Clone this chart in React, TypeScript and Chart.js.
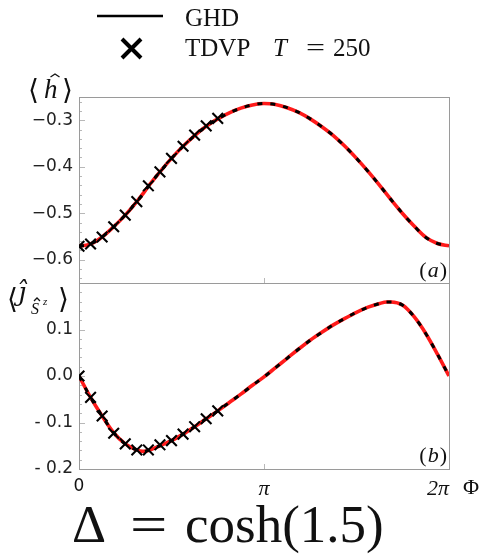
import React, { useEffect, useRef } from "react";
import { Chart, registerables } from "chart.js";

Chart.register(...registerables);

// Φ in units of π
const phiCurve = [
  0, 0.0625, 0.125, 0.1875, 0.25, 0.3125, 0.344, 0.375, 0.4375, 0.5, 0.5625, 0.625, 0.6875,
  0.75, 0.8125, 0.875, 0.9375, 1.0, 1.0625, 1.125, 1.1875, 1.25, 1.3125, 1.375, 1.4375,
  1.5, 1.5625, 1.625, 1.663, 1.6875, 1.75, 1.8125, 1.875, 1.9375, 2.0,
];
const hCurve = [
  -0.571, -0.566, -0.551, -0.529, -0.504, -0.475, -0.459, -0.442, -0.411, -0.382, -0.356, -0.333, -0.313,
  -0.297, -0.284, -0.274, -0.267, -0.264, -0.266, -0.273, -0.283, -0.297, -0.314, -0.333, -0.356,
  -0.382, -0.41, -0.44, -0.459, -0.471, -0.501, -0.528, -0.552, -0.565, -0.57,
];
const jCurve = [
  0.0, -0.046, -0.086, -0.122, -0.146, -0.159, -0.162, -0.16, -0.15, -0.139, -0.125, -0.109, -0.092,
  -0.075, -0.057, -0.039, -0.02, -0.002, 0.018, 0.038, 0.058, 0.077, 0.094, 0.11, 0.124,
  0.137, 0.148, 0.156, 0.159, 0.159, 0.152, 0.127, 0.091, 0.047, 0.0,
];

const phiTdvp = [0, 0.0625, 0.125, 0.1875, 0.25, 0.3125, 0.375, 0.4375, 0.5, 0.5625, 0.625, 0.6875, 0.75];
const hTdvp = [-0.571, -0.566, -0.551, -0.529, -0.504, -0.475, -0.441, -0.411, -0.382, -0.356, -0.332, -0.312, -0.296];
const jTdvp = [0.0, -0.046, -0.086, -0.123, -0.146, -0.159, -0.159, -0.148, -0.139, -0.125, -0.109, -0.092, -0.075];

const xTickValues = [0, 1, 2];
const xTickLabels = ["0", "π", "2π\u2003"];
const hTickValues = [-0.6, -0.5, -0.4, -0.3];
const hTickLabels = ["−0.6", "−0.5", "−0.4", "−0.3"];
const jTickValues = [-0.2, -0.1, 0.0, 0.1];
const jTickLabels = ["- 0.2", "- 0.1", "0.0", "0.1"];

const SERIF = "'Liberation Serif', 'DejaVu Serif', serif";
const DSERIF = "'DejaVu Serif', serif";
const SANS = "'DejaVu Sans', sans-serif";

const pts = (xs: number[], ys: number[]) => xs.map((x, i) => ({ x, y: ys[i] }));

const drawHat = (ctx: CanvasRenderingContext2D, cx: number, y: number, w: number) => {
  ctx.save();
  ctx.strokeStyle = "#111";
  ctx.lineWidth = 1.3;
  ctx.beginPath();
  ctx.moveTo(cx - w / 2, y + 3);
  ctx.lineTo(cx, y);
  ctx.lineTo(cx + w / 2, y + 3);
  ctx.stroke();
  ctx.restore();
};

const decorPlugin = {
  id: "decor",
  beforeDatasetsDraw(chart: any) {
    const { ctx, chartArea, scales } = chart;
    const L = chartArea.left;
    const R = chartArea.right;
    ctx.save();
    for (const id of ["yH", "yJ"]) {
      const s = scales[id];
      ctx.strokeStyle = "#b8b8b8";
      ctx.lineWidth = 1;
      const step = 0.02;
      const start = Math.ceil(s.min / step - 1e-6);
      const end = Math.floor(s.max / step + 1e-6);
      for (let k = start; k <= end; k++) {
        const v = k * step;
        const y = Math.round(s.getPixelForValue(v)) + 0.5;
        const major = k % 5 === 0;
        const len = major ? 6 : 3;
        ctx.beginPath();
        ctx.moveTo(L, y);
        ctx.lineTo(L + len, y);
        ctx.stroke();
      }
      const xs = scales.x;
      for (const v of xTickValues) {
        const x = Math.round(xs.getPixelForValue(v)) + 0.5;
        ctx.beginPath();
        ctx.moveTo(x, s.bottom);
        ctx.lineTo(x, s.bottom - 5);
        ctx.stroke();
      }
      ctx.strokeStyle = "#9a9a9a";
      ctx.strokeRect(L + 0.5, Math.round(s.top) + 0.5, R - L, Math.round(s.bottom - s.top));
    }
    ctx.restore();
  },
  afterDraw(chart: any) {
    const { ctx, scales } = chart;
    ctx.save();
    ctx.fillStyle = "#111";
    ctx.textBaseline = "alphabetic";
    ctx.textAlign = "left";

    // legend
    ctx.strokeStyle = "#000";
    ctx.lineWidth = 2.5;
    ctx.beginPath();
    ctx.moveTo(97, 16);
    ctx.lineTo(163, 16);
    ctx.stroke();
    ctx.lineWidth = 4;
    ctx.beginPath();
    ctx.moveTo(122, 39);
    ctx.lineTo(141, 58);
    ctx.moveTo(141, 39);
    ctx.lineTo(122, 58);
    ctx.stroke();
    ctx.font = `25px ${SERIF}`;
    ctx.fillText("GHD", 185, 26);
    ctx.fillText("TDVP", 185, 56);
    ctx.font = `italic 25px ${SERIF}`;
    ctx.fillText("T", 273, 56);
    ctx.font = `25px ${SERIF}`;
    ctx.save();
    ctx.translate(306, 56);
    ctx.scale(1.35, 1);
    ctx.fillText("=", 0, 0);
    ctx.restore();
    ctx.fillText("250", 333, 56);

    // y title (a): ⟨ h-hat ⟩
    ctx.font = `28px ${DSERIF}`;
    ctx.fillText("⟨", 28, 99);
    ctx.fillText("⟩", 62, 99);
    ctx.font = `italic 27px ${SERIF}`;
    ctx.fillText("h", 44, 98);
    drawHat(ctx, 55, 74, 9);

    // y title (b): ⟨ j-hat _{S-hat^z} ⟩
    ctx.font = `28px ${DSERIF}`;
    ctx.fillText("⟨", 7, 308);
    ctx.fillText("⟩", 58, 308);
    ctx.font = `italic 26px ${DSERIF}`;
    ctx.fillText("ĵ", 18, 301);
    ctx.font = `italic 16px ${SERIF}`;
    ctx.fillText("S", 31, 314);
    drawHat(ctx, 37, 298, 6);
    ctx.font = `italic 11px ${SERIF}`;
    ctx.fillText("z", 43, 305);

    // panel labels
    const panelLabel = (letter: string, right: number, base: number) => {
      ctx.font = `22px ${SERIF}`;
      const wp = ctx.measureText(")").width;
      ctx.font = `italic 22px ${SERIF}`;
      const wl = ctx.measureText(letter).width;
      let x = right - wp;
      ctx.font = `22px ${SERIF}`;
      ctx.fillText(")", x, base);
      x -= wl + 1;
      ctx.font = `italic 22px ${SERIF}`;
      ctx.fillText(letter, x, base);
      ctx.font = `22px ${SERIF}`;
      x -= wp + 1;
      ctx.fillText("(", x, base);
    };
    panelLabel("a", 447, Math.round(scales.yH.bottom) - 6);
    panelLabel("b", 447, Math.round(scales.yJ.bottom) - 7);

    // Φ axis label
    ctx.font = `22px ${SERIF}`;
    ctx.fillText("Φ", 463, 494);

    // big caption
    ctx.font = `53px ${SERIF}`;
    ctx.fillText("Δ", 72, 542);
    ctx.save();
    ctx.translate(130, 542);
    ctx.scale(1.25, 1);
    ctx.fillText("=", 0, 0);
    ctx.restore();
    ctx.fillText("cosh(1.5)", 185, 542);
    ctx.restore();
  },
};

export default function App() {
  const ref = useRef<HTMLCanvasElement | null>(null);

  useEffect(() => {
    if (!ref.current) return;
    const lineCommon = {
      pointRadius: 0,
      fill: false,
      cubicInterpolationMode: "monotone" as const,
    };
    const markerCommon = {
      showLine: false,
      pointStyle: "crossRot" as const,
      pointRadius: 7.5,
      pointBorderWidth: 2.1,
      borderColor: "#000",
      pointBorderColor: "#000",
      backgroundColor: "#000",
      clip: { left: 0, top: false, right: false, bottom: false } as any,
      order: 0,
    };
    const chart = new Chart(ref.current, {
      type: "line",
      data: {
        datasets: [
          { label: "TDVP h", data: pts(phiTdvp, hTdvp), yAxisID: "yH", ...markerCommon },
          { label: "TDVP j", data: pts(phiTdvp, jTdvp), yAxisID: "yJ", ...markerCommon },
          { label: "GHD h dash", data: pts(phiCurve, hCurve), yAxisID: "yH", borderColor: "#000", borderWidth: 3, borderDash: [5, 8], order: 1, ...lineCommon },
          { label: "GHD j dash", data: pts(phiCurve, jCurve), yAxisID: "yJ", borderColor: "#000", borderWidth: 3, borderDash: [5, 8], order: 1, ...lineCommon },
          { label: "GHD h", data: pts(phiCurve, hCurve), yAxisID: "yH", borderColor: "#ff1a1a", borderWidth: 3.6, order: 2, ...lineCommon },
          { label: "GHD j", data: pts(phiCurve, jCurve), yAxisID: "yJ", borderColor: "#ff1a1a", borderWidth: 3.6, order: 2, ...lineCommon },
        ],
      },
      options: {
        responsive: false,
        maintainAspectRatio: false,
        animation: false,
        devicePixelRatio: 1,
        layout: { padding: { left: 0, top: 97, right: 42, bottom: 0 } },
        plugins: { legend: { display: false }, tooltip: { enabled: false } },
        scales: {
          x: {
            type: "linear",
            min: 0,
            max: 2,
            grid: { display: false, drawTicks: false },
            border: { display: false },
            afterFit: (s: any) => {
              s.height = 86;
            },
            afterBuildTicks: (s: any) => {
              s.ticks = xTickValues.map((v) => ({ value: v }));
            },
            ticks: {
              padding: 7,
              maxRotation: 0,
              autoSkip: false,
              color: "#111",
              font: (c: any) =>
                c.index === 0
                  ? { family: SANS, size: 17 }
                  : { family: SERIF, size: 22, style: "italic" },
              callback: (_v: any, i: number) => xTickLabels[i],
            },
          },
          yJ: {
            type: "linear",
            position: "left",
            stack: "panels",
            stackWeight: 1,
            min: -0.2,
            max: 0.2,
            grid: { display: false, drawTicks: false },
            border: { display: false },
            afterFit: (s: any) => {
              s.width = 79;
            },
            afterBuildTicks: (s: any) => {
              s.ticks = jTickValues.map((v) => ({ value: v }));
            },
            ticks: {
              padding: 6,
              color: "#222",
              autoSkip: false,
              font: { family: SANS, size: 17 },
              callback: (_v: any, i: number) => jTickLabels[i],
            },
          },
          yH: {
            type: "linear",
            position: "left",
            stack: "panels",
            stackWeight: 1,
            min: -0.65,
            max: -0.25,
            grid: { display: false, drawTicks: false },
            border: { display: false },
            afterFit: (s: any) => {
              s.width = 79;
            },
            afterBuildTicks: (s: any) => {
              s.ticks = hTickValues.map((v) => ({ value: v }));
            },
            ticks: {
              padding: 6,
              color: "#222",
              autoSkip: false,
              font: { family: SANS, size: 17 },
              callback: (_v: any, i: number) => hTickLabels[i],
            },
          },
        },
      } as any,
      plugins: [decorPlugin],
    });
    return () => chart.destroy();
  }, []);

  return (
    <div style={{ position: "fixed", left: 0, top: 0, width: 491, height: 555, background: "#fff" }}>
      <canvas ref={ref} width={491} height={555} style={{ display: "block", width: 491, height: 555 }} />
    </div>
  );
}
